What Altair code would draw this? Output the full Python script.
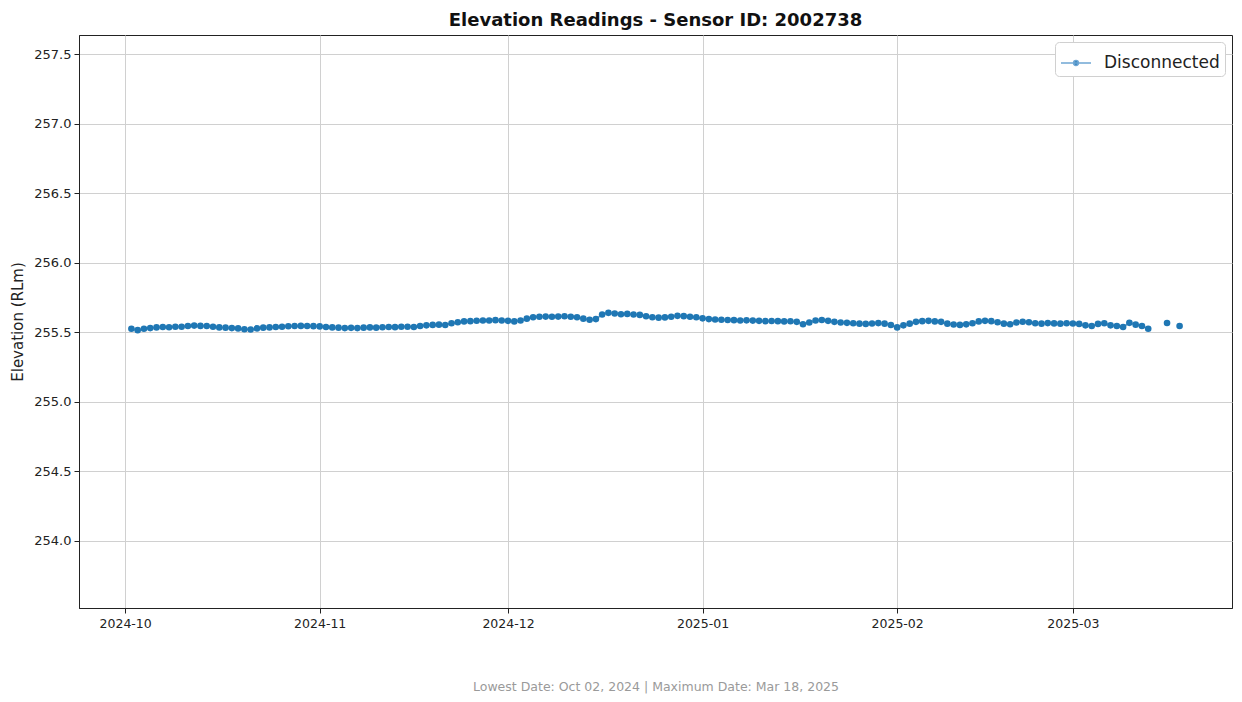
import datetime as dt
import altair as alt
import pandas as pd

# ---- data ----
oct_vals = [255.525, 255.515, 255.525, 255.530,
            255.535, 255.538, 255.536, 255.540, 255.540,
            255.545, 255.548, 255.546, 255.545,
            255.540, 255.535, 255.533,
            255.530, 255.528,
            255.522, 255.520,
            255.528,
            255.533, 255.535, 255.538, 255.540,
            255.543, 255.545, 255.546, 255.545, 255.544]          # Oct 2 - Oct 31
nov_vals = [255.542, 255.538, 255.535, 255.533,
            255.530, 255.532, 255.530, 255.533, 255.535, 255.533,
            255.536, 255.538, 255.537, 255.540, 255.540, 255.538,
            255.545, 255.550, 255.553, 255.555, 255.552,
            255.565,
            255.572, 255.578, 255.580, 255.583, 255.585, 255.585, 255.587,
            255.585]                                                # Nov 1 - Nov 30
dec_vals = [255.582, 255.578, 255.585,
            255.598, 255.608, 255.612, 255.613, 255.612,
            255.613, 255.615, 255.612, 255.608,
            255.598, 255.590, 255.595,
            255.628, 255.640, 255.635,
            255.630, 255.632, 255.628, 255.625,
            255.615, 255.608, 255.605, 255.607,
            255.612, 255.618, 255.616, 255.612, 255.608]           # Dec 1 - Dec 31
jan_vals = [255.600, 255.595, 255.592, 255.590, 255.588, 255.587,
            255.585, 255.586, 255.584, 255.582, 255.580, 255.581,
            255.580, 255.578, 255.579, 255.575,
            255.558, 255.570,
            255.585, 255.588, 255.582,
            255.575, 255.570, 255.568, 255.565, 255.562, 255.560,
            255.563, 255.566, 255.562,
            255.552]                                                # Jan 1 - Jan 31
feb_vals = [255.535, 255.550, 255.562,
            255.575, 255.580, 255.582, 255.578, 255.575,
            255.562, 255.556, 255.553, 255.557,
            255.565,
            255.578, 255.582, 255.580, 255.572,
            255.562, 255.558,
            255.570, 255.576, 255.572,
            255.565, 255.562, 255.566, 255.564, 255.562, 255.565]  # Feb 1 - Feb 28
mar_vals = [255.563, 255.560, 255.550, 255.545, 255.560, 255.565, 255.550,
            255.545, 255.538, 255.568, 255.555, 255.545, 255.525]  # Mar 1 - Mar 13
late_dates = ["2025-03-16", "2025-03-18"]
late_vals = [255.567, 255.545]

series_name = "Disconnected"
title_text = "Elevation Readings - Sensor ID: 2002738"
footer_text = "Lowest Date: Oct 02, 2024 | Maximum Date: Mar 18, 2025"
y_ticks = [254.0, 254.5, 255.0, 255.5, 256.0, 256.5, 257.0, 257.5]

# ---- build table ----
dates = []
vals = []
for start, arr in [((2024, 10, 2), oct_vals), ((2024, 11, 1), nov_vals),
                   ((2024, 12, 1), dec_vals), ((2025, 1, 1), jan_vals),
                   ((2025, 2, 1), feb_vals), ((2025, 3, 1), mar_vals)]:
    d0 = dt.date(*start)
    for i, v in enumerate(arr):
        dates.append(d0 + dt.timedelta(days=i))
        vals.append(v)
for s, v in zip(late_dates, late_vals):
    dates.append(dt.date.fromisoformat(s))
    vals.append(v)

seg = []
g = 0
for i, d in enumerate(dates):
    if i > 0 and (d - dates[i - 1]).days > 1:
        g += 1
    seg.append(g)

df = pd.DataFrame({
    "date": [d.isoformat() + "T00:00:00" for d in dates],
    "elev": vals,
    "seg": seg,
    "status": series_name,
})

FONT = "DejaVu Sans"
BLUE = "#1f77b4"

month_ticks = [alt.DateTime(year=y, month=m, date=1) for y, m in
               [(2024, 10), (2024, 11), (2024, 12), (2025, 1), (2025, 2), (2025, 3)]]

x_enc = alt.X(
    "date:T",
    scale=alt.Scale(domain=[alt.DateTime(year=2024, month=9, date=23, hours=15, minutes=36),
                            alt.DateTime(year=2025, month=3, date=26, hours=8, minutes=24)],
                    nice=False),
    axis=alt.Axis(values=month_ticks, format="%Y-%m", title=footer_text,
                  titleColor="#9a9a9a", titleFontSize=12.5, titleFontWeight="normal",
                  titlePadding=51, labelFontSize=12.5, labelColor="#222222",
                  tickSize=5, labelPadding=4, grid=True),
)
y_enc = alt.Y(
    "elev:Q",
    scale=alt.Scale(domain=[253.515, 257.64], nice=False, zero=False),
    axis=alt.Axis(values=y_ticks, format=".1f", title="Elevation (RLm)",
                  titleFontSize=15, titleFontWeight="normal", titleColor="#222222",
                  titlePadding=8, labelFontSize=13, labelColor="#222222",
                  tickSize=5, labelPadding=3, grid=True),
)

line = alt.Chart(df).mark_line(color=BLUE, strokeWidth=1.8, opacity=0.65).encode(
    x=x_enc, y=y_enc, detail="seg:N"
)

legend_symbol = "M-1,0L1,0M-0.16,0A0.16,0.16 0 1 1 0.16,0A0.16,0.16 0 1 1 -0.16,0Z"

points = alt.Chart(df).mark_circle(size=44, opacity=1).encode(
    x=x_enc, y=y_enc,
    color=alt.Color("status:N", scale=alt.Scale(range=[BLUE]),
                    legend=alt.Legend(title=None, orient="top-right", offset=7,
                                      symbolType=legend_symbol, symbolSize=900,
                                      symbolStrokeColor="#6fa6d4", symbolStrokeWidth=1.5,
                                      symbolOpacity=1,
                                      labelFontSize=17, labelColor="#222222",
                                      labelOffset=12,
                                      fillColor="white", strokeColor="#d0d0d0",
                                      cornerRadius=4, padding=5)),
)

chart = alt.layer(line, points).properties(
    width=1153,
    height=573,
    autosize=alt.AutoSizeParams(type="none"),
    padding={"left": 71, "top": 27, "right": 2, "bottom": 86},
    title=alt.TitleParams(title_text, fontSize=18, fontWeight="bold", font=FONT,
                          anchor="middle", frame="group", offset=5, color="#111111"),
).configure(
    font=FONT,
).configure_axis(
    labelFont=FONT, titleFont=FONT, gridColor="#d0d0d0", gridWidth=1,
    domainColor="#222222", tickColor="#222222",
).configure_view(
    stroke="#222222", strokeWidth=1,
)

chart.save("out.html", embed_options={"renderer": "svg", "actions": False})
